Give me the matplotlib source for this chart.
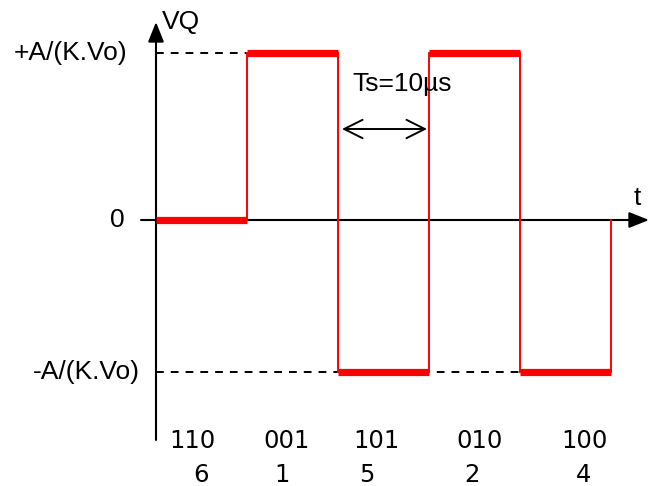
import matplotlib.pyplot as plt

# Signal VQ over time (in units of Ts), levels in units of A/(K.Vo)
t_edges = [0, 1, 2, 3, 4, 5]
levels = [0, 1.1, -1.0, 1.1, -1.0]
codes = ['110', '001', '101', '010', '100']
sectors = ['6', '1', '5', '2', '4']

# layout: pixel placement converted to data units
x0_px, px_per_t = 156, 91
y0_px, px_per_v = 220, 152


def tx(px):
    return (px - x0_px) / px_per_t


def vy(px):
    return (y0_px - px) / px_per_v


fig = plt.figure(figsize=(6.48, 4.86), dpi=100)
ax = fig.add_axes([0, 0, 1, 1])
ax.set_xlim(tx(0), tx(648))
ax.set_ylim(vy(486), vy(0))
ax.axis('off')

arial = 'Liberation Sans'
axis_arrow = dict(arrowstyle='-|>,head_length=0.55,head_width=0.22', lw=1.5, color='black',
                  mutation_scale=22, shrinkA=0, shrinkB=0)

# axes with arrow heads
ax.annotate('', xy=(tx(649), 0), xytext=(tx(141), 0), arrowprops=axis_arrow,
            annotation_clip=False, zorder=1)
ax.annotate('', xy=(0, vy(22)), xytext=(0, vy(440)), arrowprops=axis_arrow,
            annotation_clip=False, zorder=1)

# dashed reference levels
hi, lo = max(levels), min(levels)
ax.plot([t_edges[0], t_edges[1]], [hi, hi], color='black', lw=1.4, linestyle=(0, (4, 3.6)))
ax.plot([t_edges[0], t_edges[4]], [lo, lo], color='black', lw=1.4, linestyle=(0, (4, 3.6)))

# square wave: thin verticals, thick horizontals
for i, v in enumerate(levels):
    ax.plot([t_edges[i], t_edges[i + 1]], [v, v], color='red', lw=5.2, solid_capstyle='butt', zorder=3)
for i in range(1, len(t_edges)):
    prev = levels[i - 1]
    nxt = levels[i] if i < len(levels) else 0
    ax.plot([t_edges[i], t_edges[i]], [prev, nxt], color='red', lw=1.4, zorder=3)

# labels
ax.text(tx(162), vy(22), 'VQ', fontsize=19, family=arial, ha='left', va='center')
ax.text(tx(127), hi, '+A/(K.Vo)', fontsize=19, family=arial, ha='right', va='center')
ax.text(tx(140), lo, '-A/(K.Vo)', fontsize=19, family=arial, ha='right', va='center')
ax.text(tx(125), 0, '0', fontsize=19, family=arial, ha='right', va='center')
ax.text(tx(637), vy(198), 't', fontsize=19, family=arial, ha='center', va='center')

# Ts marker
ax.annotate('', xy=(tx(427), vy(129)), xytext=(tx(342), vy(129)),
            arrowprops=dict(arrowstyle='<->,head_length=0.6,head_width=0.3', lw=1.4, color='black',
                            mutation_scale=22, shrinkA=0, shrinkB=0))
ax.text(tx(352), vy(84), 'Ts=10\u00b5s', fontsize=19, family=arial, ha='left', va='center')

# switching states under the axis
code_x = [192, 287, 376, 480, 585]
sector_x = [201, 282, 367, 472, 584]
for c, s, cx, sx in zip(codes, sectors, code_x, sector_x):
    ax.text(tx(cx), vy(441), c, fontsize=17.5, family='DejaVu Sans', ha='center', va='center')
    ax.text(tx(sx), vy(475), s, fontsize=17.5, family='DejaVu Sans', ha='center', va='center')

plt.savefig('out.png', dpi=100)
